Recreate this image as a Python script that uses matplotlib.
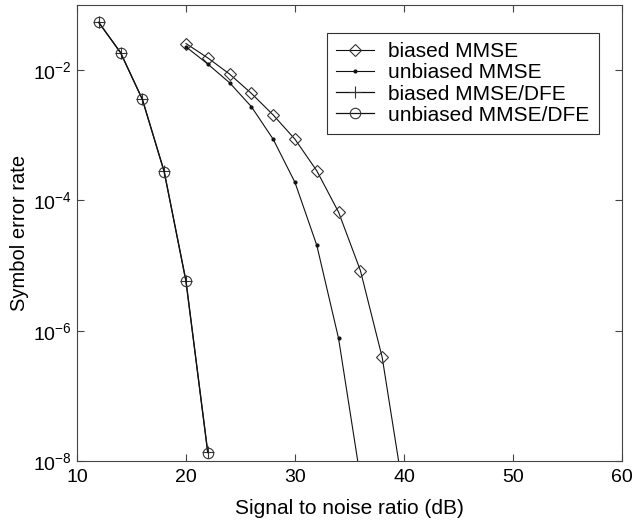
import numpy as np
import matplotlib
matplotlib.use("Agg")
import matplotlib.pyplot as plt

plt.rcParams['font.family'] = ['Liberation Sans', 'DejaVu Sans']
plt.rcParams['mathtext.fontset'] = 'custom'
plt.rcParams['mathtext.rm'] = 'Liberation Sans'

# SNR (dB) grids
snr_dfe = [12, 14, 16, 18, 20, 22]
snr_mmse = [20, 22, 24, 26, 28, 30, 32, 34, 36, 38, 40]

# symbol error rates
ser_biased_mmse = [2.56e-2, 1.54e-2, 8.7e-3, 4.4e-3, 2.05e-3, 8.7e-4,
                   2.85e-4, 6.6e-5, 8.4e-6, 3.9e-7, 3.0e-9]
ser_unbiased_mmse = [2.28e-2, 1.24e-2, 6.4e-3, 2.75e-3, 8.7e-4, 1.89e-4,
                     2.05e-5, 7.6e-7, 5.5e-9, 1e-11, 1e-13]
ser_biased_dfe = [5.4e-2, 1.86e-2, 3.56e-3, 2.78e-4, 5.8e-6, 1.36e-8]
ser_unbiased_dfe = [5.4e-2, 1.85e-2, 3.55e-3, 2.76e-4, 5.75e-6, 1.35e-8]

fig = plt.figure(figsize=(6.36, 5.23), dpi=100)
ax = fig.add_axes([0.121, 0.1185, 0.857, 0.872])

edge = '#333333'
ax.semilogy(snr_mmse, ser_biased_mmse, color='#111111', lw=0.8, marker='D',
            ms=6.5, mfc='none', mec=edge, mew=0.8, label='biased MMSE')
ax.semilogy(snr_mmse, ser_unbiased_mmse, color='#111111', lw=0.8, marker='.',
            ms=4, label='unbiased MMSE')
ax.semilogy(snr_dfe, ser_biased_dfe, color='#111111', lw=0.9, marker='+',
            ms=9, mec=edge, mew=0.8, label='biased MMSE/DFE')
ax.semilogy(snr_dfe, ser_unbiased_dfe, color='#111111', lw=0.9, marker='o',
            ms=7.5, mfc='none', mec=edge, mew=0.8, label='unbiased MMSE/DFE')

ax.set_xlim(10, 60)
ax.set_ylim(1e-8, 1e-1)
ax.set_xticks([10, 20, 30, 40, 50, 60])
ax.set_yticks([1e-8, 1e-6, 1e-4, 1e-2])
ax.minorticks_off()
ax.tick_params(direction='in', top=True, right=True, length=5,
               labelsize=14, color='#444444')
ax.tick_params(axis='x', pad=6)
for s in ax.spines.values():
    s.set_color('#444444')

ax.set_xlabel('Signal to noise ratio (dB)', fontsize=15, labelpad=9)
ax.set_ylabel('Symbol error rate', fontsize=14.5, labelpad=3)

leg = ax.legend(loc='upper right', bbox_to_anchor=(0.958, 0.9386),
                fontsize=15, fancybox=False, framealpha=1,
                handlelength=1.8, borderpad=0.45, labelspacing=0.1,
                handletextpad=0.7, borderaxespad=0)
leg.get_frame().set_edgecolor('#333333')
leg.get_frame().set_linewidth(0.8)

fig.savefig('out.png', dpi=100)
